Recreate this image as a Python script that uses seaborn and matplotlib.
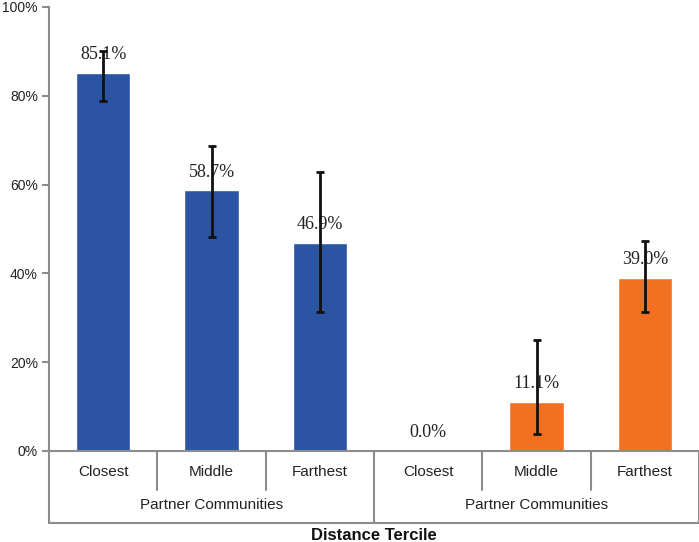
import matplotlib
matplotlib.use("Agg")
import matplotlib.pyplot as plt
import matplotlib.transforms as mtransforms
import seaborn as sns
import pandas as pd
import numpy as np

# ---- data ----
categories = ["Closest", "Middle", "Farthest", "Closest", "Middle", "Farthest"]
groups = ["Partner Communities", "Partner Communities"]
values = [85.1, 58.7, 46.9, 0.0, 11.1, 39.0]
err_low = [78.9, 48.1, 31.3, np.nan, 3.8, 31.2]
err_high = [90.1, 68.8, 62.9, np.nan, 24.9, 47.4]
bar_colors = ["#2B54A3", "#2B54A3", "#2B54A3", "#F37021", "#F37021", "#F37021"]
y_ticks = [0, 20, 40, 60, 80, 100]
x_title = "Distance Tercile"

sns.set_theme(style="white")
plt.rcParams["font.family"] = ["Liberation Sans", "DejaVu Sans"]

keys = [f"{i}_{c}" for i, c in enumerate(categories)]
df = pd.DataFrame({"key": keys, "value": values})

fig = plt.figure(figsize=(6.99, 5.42), dpi=100)
ax = fig.add_axes([49 / 699, 1 - 451 / 542, 650 / 699, 444 / 542])

sns.barplot(data=df, x="key", y="value", hue="key",
            palette=dict(zip(keys, bar_colors)), width=0.5,
            legend=False, ax=ax, saturation=1)

# error bars
for p, v, lo, hi in zip(ax.patches, values, err_low, err_high):
    if np.isnan(lo):
        continue
    xc = p.get_x() + p.get_width() / 2
    ax.errorbar([xc], [v], yerr=[[v - lo], [hi - v]], fmt="none",
                ecolor="#111111", elinewidth=2, capsize=3, capthick=2, zorder=5)

# value labels
for p, v in zip(ax.patches, values):
    ax.annotate(f"{v:.1f}%", (p.get_x() + p.get_width() / 2, v),
                xytext=(0, 7), textcoords="offset points",
                ha="center", va="bottom", fontsize=13,
                family=["Liberation Serif", "DejaVu Serif"], color="#222222",
                zorder=4)

ax.set_xlim(-0.5, len(categories) - 0.5)
ax.set_ylim(0, 100)
ax.set_yticks(y_ticks)
ax.set_yticklabels([f"{t}%" for t in y_ticks], fontsize=10, color="#222222")
ax.set_xticks([])
ax.set_xlabel("")
ax.set_ylabel("")

gray = "#8C8C8C"
for s in ["top", "right"]:
    ax.spines[s].set_visible(False)
ax.spines["left"].set_color(gray)
ax.spines["left"].set_linewidth(1.5)
ax.spines["bottom"].set_color(gray)
ax.spines["bottom"].set_linewidth(1.5)
ax.tick_params(axis="y", which="both", direction="out", length=5,
               width=1.5, color=gray, left=True, pad=3)

trans = mtransforms.blended_transform_factory(ax.transData, ax.transAxes)
y_cat = -21 / 444
y_sep = -39 / 444
y_grp = -54 / 444
y_box = -72 / 444
y_title = -85 / 444

n = len(categories)
per_group = n // len(groups)
# category labels and short separators
for i, c in enumerate(categories):
    ax.text(i, y_cat, c, transform=trans, ha="center", va="center",
            fontsize=11, color="#222222")
for i in range(1, n):
    if i % per_group == 0:
        continue
    ax.plot([i - 0.5, i - 0.5], [0, y_sep], transform=trans, color=gray,
            lw=1.5, clip_on=False)
# group labels and group separators
for g_i, g in enumerate(groups):
    center = g_i * per_group + (per_group - 1) / 2
    ax.text(center, y_grp, g, transform=trans, ha="center", va="center",
            fontsize=11, color="#222222")
for g_i in range(len(groups) + 1):
    xb = g_i * per_group - 0.5
    ax.plot([xb, xb], [0, y_box], transform=trans, color=gray,
            lw=1.5, clip_on=False)
ax.plot([-0.5, n - 0.5], [y_box, y_box], transform=trans, color=gray,
        lw=1.5, clip_on=False)

ax.text(0.5, y_title, x_title, transform=ax.transAxes, ha="center",
        va="center", fontsize=12, fontweight="bold", color="#111111")

fig.savefig("out.png", dpi=100)
